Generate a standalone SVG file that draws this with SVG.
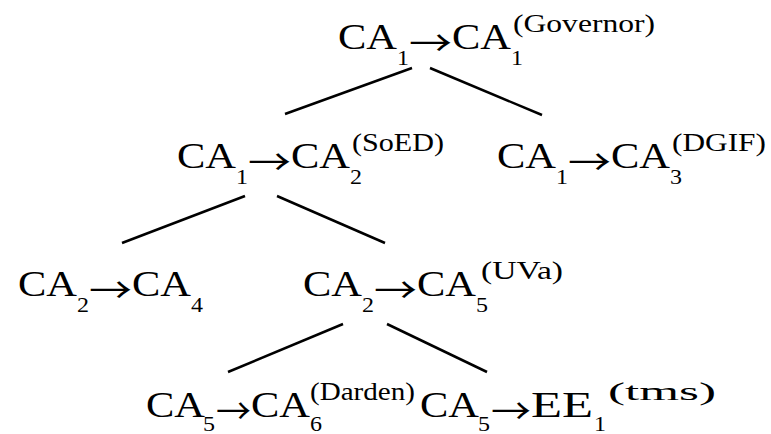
<svg xmlns="http://www.w3.org/2000/svg" width="771" height="434" viewBox="0 0 771 434">
<style>
text{font-family:"Liberation Serif","Times New Roman",serif;fill:#000}
.m{font-size:35px}
.sb{font-size:22px}
.sp{font-size:25px}
.ar{font-family:"Noto Sans CJK JP","Liberation Serif",sans-serif;font-size:35px}
.edge{stroke:#000;stroke-width:2.5;fill:none}
</style>
<rect width="771" height="434" fill="#fff"/>
<g id="edges">
<line class="edge" x1="285" y1="114" x2="412" y2="68"/>
<line class="edge" x1="430" y1="68" x2="542" y2="115"/>
<line class="edge" x1="122" y1="243" x2="245" y2="196"/>
<line class="edge" x1="277" y1="196" x2="385" y2="243"/>
<line class="edge" x1="228" y1="372" x2="343" y2="324"/>
<line class="edge" x1="387" y1="324" x2="487" y2="372"/>
</g>
<g id="n1">
<text class="m" x="338" y="49" textLength="59" lengthAdjust="spacingAndGlyphs">CA</text>
<text class="sb" x="397" y="65" textLength="12" lengthAdjust="spacingAndGlyphs">1</text>
<text class="ar" x="409" y="56" textLength="43" lengthAdjust="spacingAndGlyphs">→</text>
<text class="m" x="452" y="49" textLength="59" lengthAdjust="spacingAndGlyphs">CA</text>
<text class="sb" x="511" y="65" textLength="12" lengthAdjust="spacingAndGlyphs">1</text>
<text class="sp" x="513" y="32" textLength="142" lengthAdjust="spacingAndGlyphs">(Governor)</text>
</g>
<g id="n2">
<text class="m" x="177" y="168" textLength="59" lengthAdjust="spacingAndGlyphs">CA</text>
<text class="sb" x="236" y="184" textLength="12" lengthAdjust="spacingAndGlyphs">1</text>
<text class="ar" x="248" y="175" textLength="43" lengthAdjust="spacingAndGlyphs">→</text>
<text class="m" x="291" y="168" textLength="59" lengthAdjust="spacingAndGlyphs">CA</text>
<text class="sb" x="350" y="184" textLength="12" lengthAdjust="spacingAndGlyphs">2</text>
<text class="sp" x="352" y="151" textLength="92" lengthAdjust="spacingAndGlyphs">(SoED)</text>
</g>
<g id="n3">
<text class="m" x="497" y="168" textLength="59" lengthAdjust="spacingAndGlyphs">CA</text>
<text class="sb" x="556" y="184" textLength="12" lengthAdjust="spacingAndGlyphs">1</text>
<text class="ar" x="568" y="175" textLength="43" lengthAdjust="spacingAndGlyphs">→</text>
<text class="m" x="611" y="168" textLength="59" lengthAdjust="spacingAndGlyphs">CA</text>
<text class="sb" x="670" y="184" textLength="12" lengthAdjust="spacingAndGlyphs">3</text>
<text class="sp" x="672" y="151" textLength="94" lengthAdjust="spacingAndGlyphs">(DGIF)</text>
</g>
<g id="n4">
<text class="m" x="18" y="296" textLength="59" lengthAdjust="spacingAndGlyphs">CA</text>
<text class="sb" x="77" y="312" textLength="12" lengthAdjust="spacingAndGlyphs">2</text>
<text class="ar" x="89" y="303" textLength="43" lengthAdjust="spacingAndGlyphs">→</text>
<text class="m" x="132" y="296" textLength="59" lengthAdjust="spacingAndGlyphs">CA</text>
<text class="sb" x="191" y="312" textLength="12" lengthAdjust="spacingAndGlyphs">4</text>
</g>
<g id="n5">
<text class="m" x="303" y="296" textLength="59" lengthAdjust="spacingAndGlyphs">CA</text>
<text class="sb" x="362" y="312" textLength="12" lengthAdjust="spacingAndGlyphs">2</text>
<text class="ar" x="374" y="303" textLength="43" lengthAdjust="spacingAndGlyphs">→</text>
<text class="m" x="417" y="296" textLength="59" lengthAdjust="spacingAndGlyphs">CA</text>
<text class="sb" x="476" y="312" textLength="12" lengthAdjust="spacingAndGlyphs">5</text>
<text class="sp" x="481" y="279" textLength="82" lengthAdjust="spacingAndGlyphs">(UVa)</text>
</g>
<g id="n6">
<text class="m" x="146" y="417" textLength="59" lengthAdjust="spacingAndGlyphs">CA</text>
<text class="sb" x="203" y="431" textLength="12" lengthAdjust="spacingAndGlyphs">5</text>
<text class="ar" x="216" y="424" textLength="35" lengthAdjust="spacingAndGlyphs">→</text>
<text class="m" x="251" y="417" textLength="59" lengthAdjust="spacingAndGlyphs">CA</text>
<text class="sb" x="310" y="431" textLength="12" lengthAdjust="spacingAndGlyphs">6</text>
<text class="sp" x="310" y="400" textLength="105" lengthAdjust="spacingAndGlyphs">(Darden)</text>
</g>
<g id="n7">
<text class="m" x="420" y="417" textLength="59" lengthAdjust="spacingAndGlyphs">CA</text>
<text class="sb" x="478" y="431" textLength="12" lengthAdjust="spacingAndGlyphs">5</text>
<text class="ar" x="491" y="424" textLength="40" lengthAdjust="spacingAndGlyphs">→</text>
<text class="m" x="531" y="417" textLength="62" lengthAdjust="spacingAndGlyphs">EE</text>
<text class="sb" x="594" y="431" textLength="12" lengthAdjust="spacingAndGlyphs">1</text>
<text class="sp" x="608" y="400" textLength="108" lengthAdjust="spacingAndGlyphs">(tms)</text>
</g>
</svg>
